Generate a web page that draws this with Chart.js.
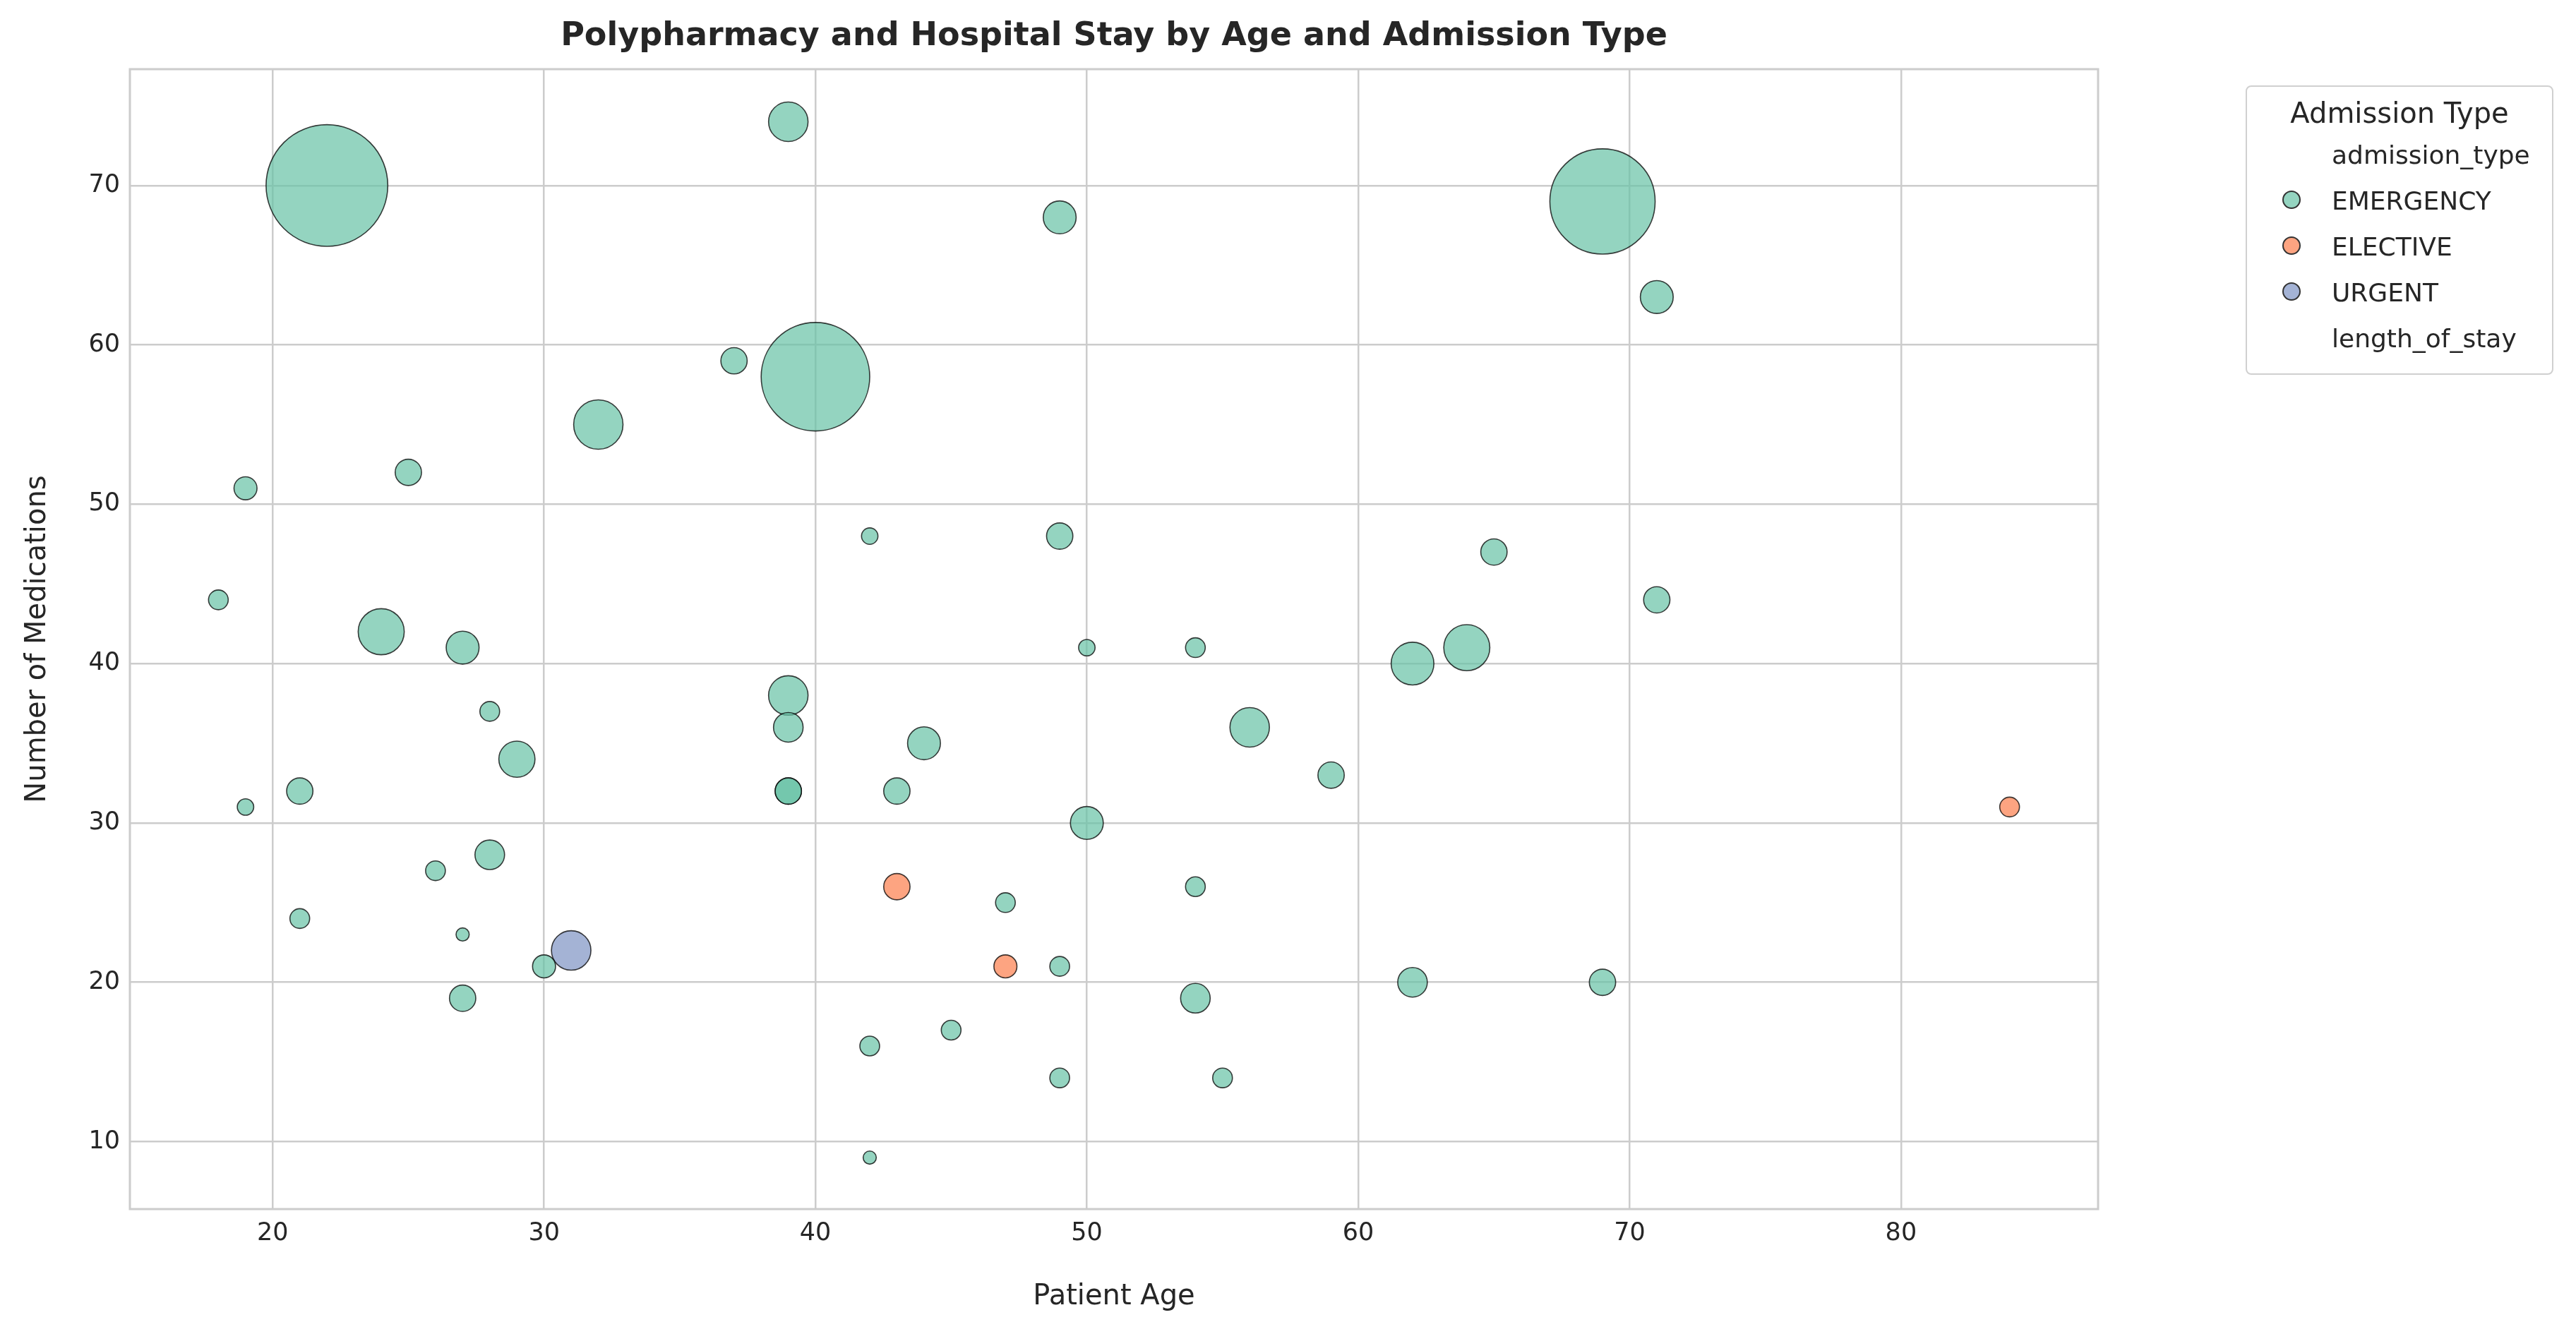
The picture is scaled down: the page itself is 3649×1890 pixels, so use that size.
<!DOCTYPE html>
<html>
<head>
<meta charset="utf-8">
<script src="https://cdn.jsdelivr.net/npm/chart.js@4.4.0/dist/chart.umd.min.js"></script>
<style>
  body { margin: 0; background: #fff; font-family: "DejaVu Sans", Arial, sans-serif; }
  #wrap { position: relative; width: 3649px; height: 1890px; }
  #legend { position: absolute; left: 3181px; top: 121px; width: 436px; height: 410px;
    border: 2px solid #d0d0d0; border-radius: 8px; box-sizing: border-box; color: #262626; }
  #legend .t { font-size: 40px; text-align: center; margin-top: 14px; }
  #legend .row { font-size: 36px; height: 65px; line-height: 65px; position: relative; padding-left: 120px; }
  #legend .dot { position: absolute; left: 50px; top: 18px; width: 26px; height: 26px; border-radius: 50%; border: 2px solid #333; box-sizing: border-box; }
</style>
</head>
<body>
<div id="wrap">
  <canvas id="c" width="3649" height="1890"></canvas>
  <div id="legend">
    <div class="t">Admission Type</div>
    <div class="row" style="margin-top:4px">admission_type</div>
    <div class="row"><span class="dot" style="background:rgba(102,194,165,0.7)"></span>EMERGENCY</div>
    <div class="row"><span class="dot" style="background:rgba(252,141,98,0.8)"></span>ELECTIVE</div>
    <div class="row"><span class="dot" style="background:rgba(141,160,203,0.8)"></span>URGENT</div>
    <div class="row">length_of_stay</div>
  </div>
</div>
<script>
// emergency admissions: age, number of medications, length of stay (days)
const emergAge = [22,39,49,69,71,37,40,32,19,25,42,49,65,18,71,24,27,50,54,62,64,28,39,39,56,44,29,59,21,39,39,43,19,50,28,26,54,47,21,27,30,49,27,54,62,69,42,45,49,55,42];
const emergMeds = [70,74,68,69,63,59,58,55,51,52,48,48,47,44,44,42,41,41,41,40,41,37,38,36,36,35,34,33,32,32,32,32,31,30,28,27,26,25,24,23,21,21,19,19,20,20,16,17,14,14,9];
const emergStay = [34,9,7,29,7,5,30,12,4,5,2,5,5,3,5,11,7,2,3,10,11,3,9,6,9,7,8,5,5,5,5,5,2,7,6,3,3,3,3,1,4,3,5,6,6,5,3,3,3,3,1];
const electAge = [43,47,84];
const electMeds = [26,21,31];
const electStay = [5,4,3];
const urgAge = [31];
const urgMeds = [22];
const urgStay = [9];

const xTicks = [20,30,40,50,60,70,80];
const yTicks = [10,20,30,40,50,60,70];

function pts(ages, meds, stay) {
  return ages.map((a, i) => ({ x: a, y: meds[i], r: (stay[i] + 3) * 2.33 }));
}

const frame = {
  id: 'frame',
  afterDraw(chart) {
    const { ctx, chartArea: a } = chart;
    ctx.save();
    ctx.strokeStyle = '#cccccc';
    ctx.lineWidth = 3;
    ctx.strokeRect(a.left, a.top, a.right - a.left, a.bottom - a.top);
    ctx.fillStyle = '#262626';
    ctx.font = 'bold 46px "DejaVu Sans"';
    ctx.textAlign = 'center';
    ctx.textBaseline = 'middle';
    ctx.fillText('Polypharmacy and Hospital Stay by Age and Admission Type', (a.left + a.right) / 2, 52);
    ctx.restore();
  }
};

const tickFont = { family: 'DejaVu Sans', size: 35 };
const titleFont = { family: 'DejaVu Sans', size: 40 };

new Chart(document.getElementById('c'), {
  type: 'bubble',
  data: {
    datasets: [
      { label: 'EMERGENCY', data: pts(emergAge, emergMeds, emergStay), backgroundColor: 'rgba(102,194,165,0.7)', borderColor: 'rgba(0,0,0,0.75)', borderWidth: 1.6 },
      { label: 'ELECTIVE', data: pts(electAge, electMeds, electStay), backgroundColor: 'rgba(252,141,98,0.8)', borderColor: 'rgba(0,0,0,0.75)', borderWidth: 1.6 },
      { label: 'URGENT', data: pts(urgAge, urgMeds, urgStay), backgroundColor: 'rgba(141,160,203,0.8)', borderColor: 'rgba(0,0,0,0.75)', borderWidth: 1.6 }
    ]
  },
  options: {
    responsive: false,
    animation: false,
    devicePixelRatio: 1,
    layout: { padding: { top: 98, right: 677, left: 26, bottom: 24 } },
    plugins: { legend: { display: false }, tooltip: { enabled: false } },
    scales: {
      x: {
        type: 'linear', min: 14.74, max: 87.26,
        afterBuildTicks: s => { s.ticks = xTicks.map(v => ({ value: v })); },
        afterFit: s => { s.height = 153; },
        grid: { color: '#cccccc', lineWidth: 2.5, drawTicks: false },
        border: { display: false },
        ticks: { font: tickFont, color: '#262626', padding: 14 },
        title: { display: true, text: 'Patient Age', font: titleFont, color: '#262626', padding: { top: 8 } }
      },
      y: {
        type: 'linear', min: 5.77, max: 77.3,
        afterBuildTicks: s => { s.ticks = yTicks.map(v => ({ value: v })); },
        afterFit: s => { s.width = 158; },
        grid: { color: '#cccccc', lineWidth: 2.5, drawTicks: false },
        border: { display: false },
        ticks: { font: tickFont, color: '#262626', padding: 14 },
        title: { display: true, text: 'Number of Medications', font: titleFont, color: '#262626', padding: { bottom: 8 } }
      }
    }
  },
  plugins: [frame]
});
</script>
</body>
</html>
